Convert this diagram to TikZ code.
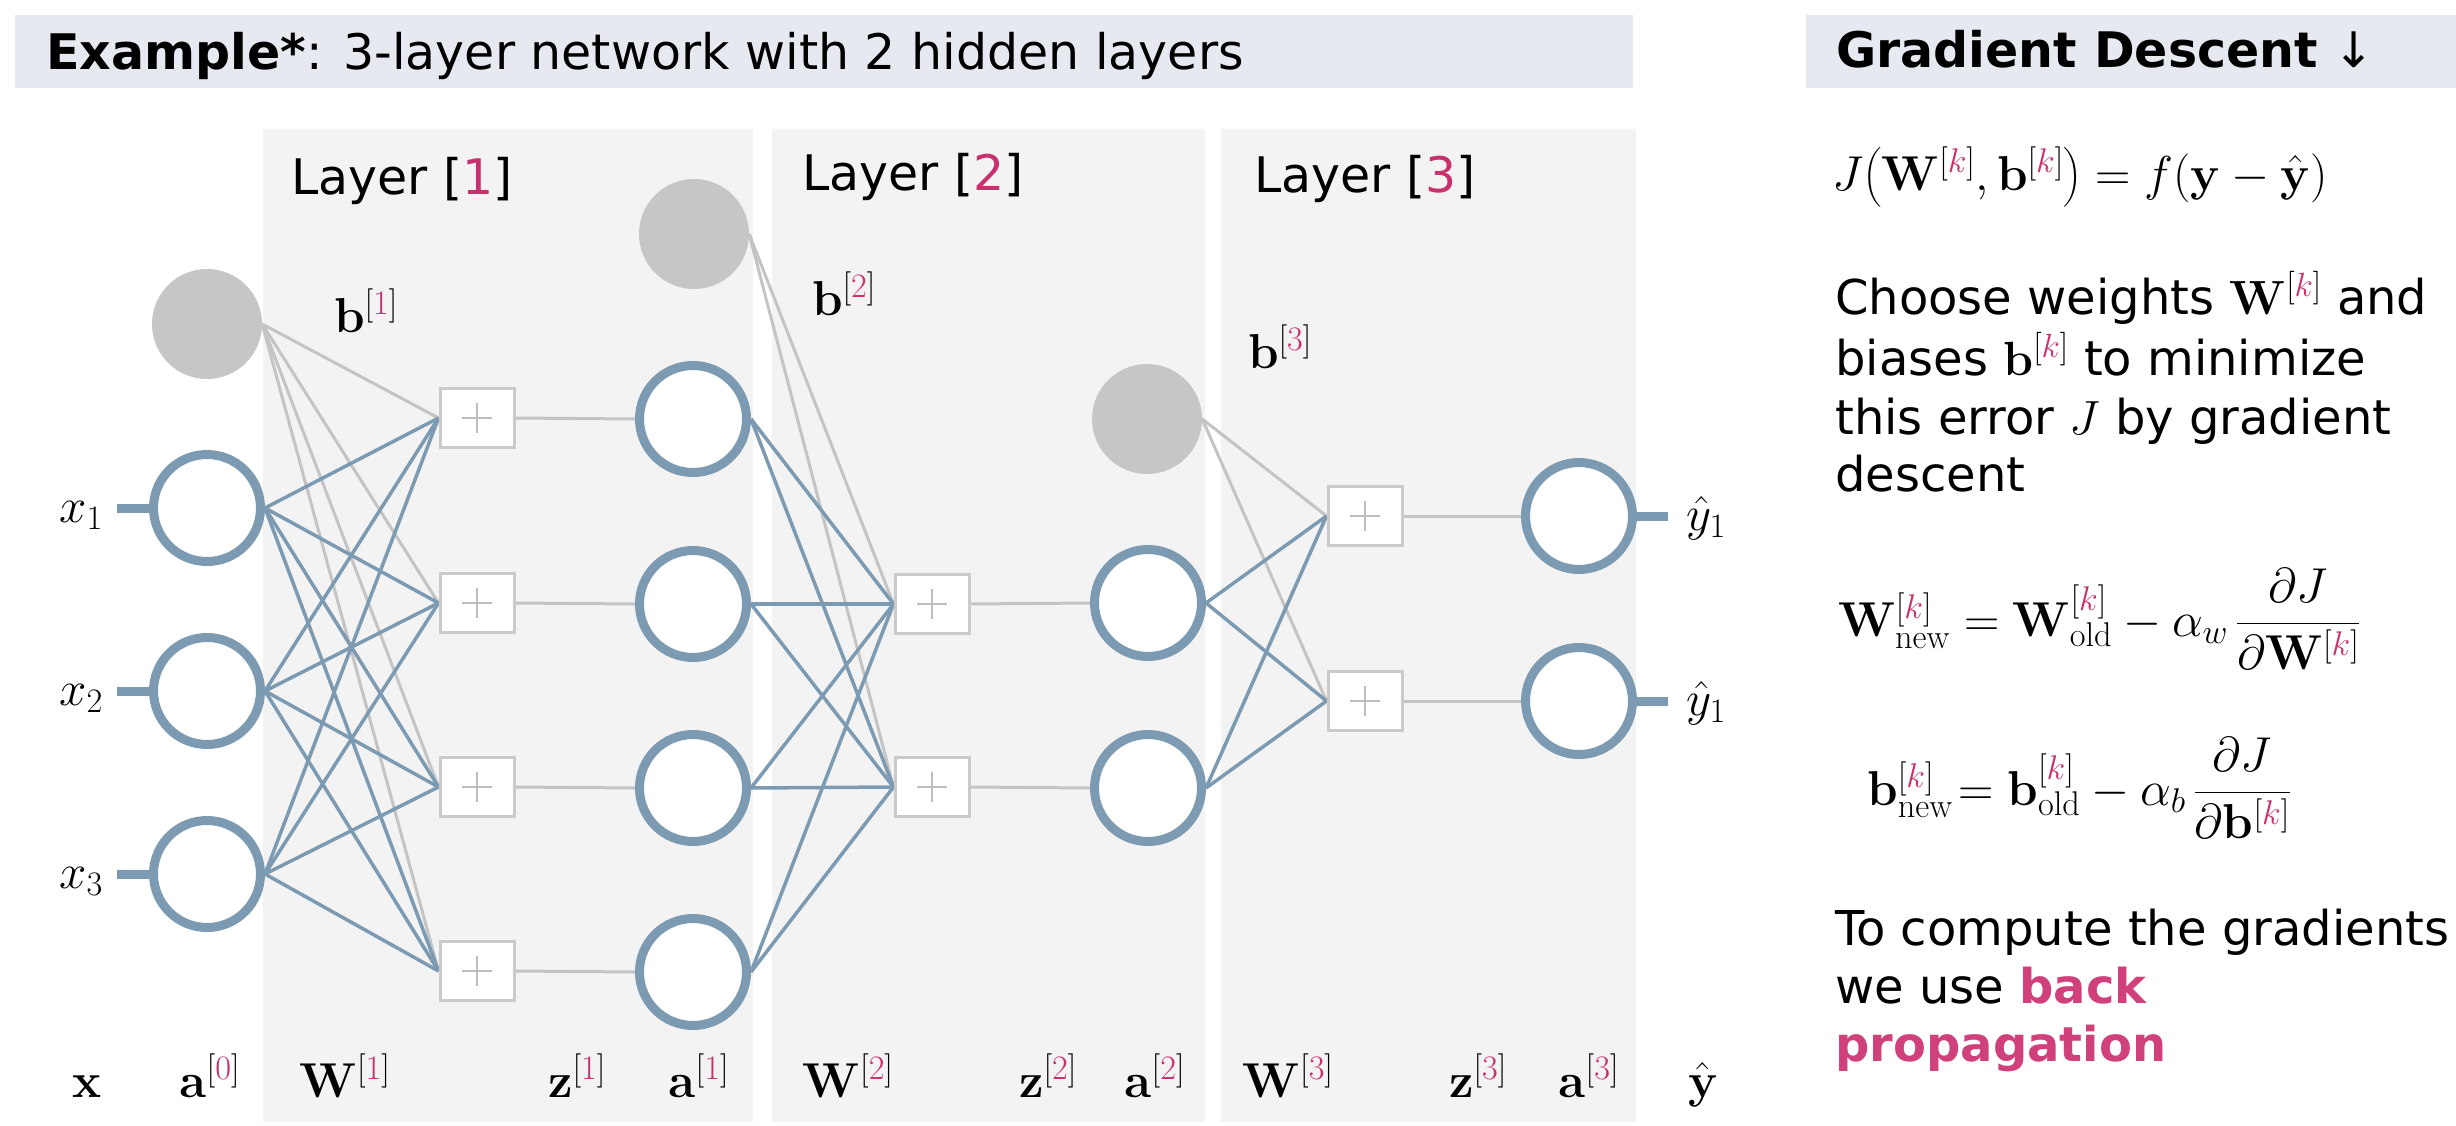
\RequirePackage{fix-cm}
\documentclass[tikz,border=0pt]{standalone}
\usepackage{amsmath}
\usepackage[no-math]{fontspec}
\setmainfont{DejaVu Sans}
\definecolor{ringblue}{RGB}{124,155,178}
\definecolor{biasgray}{RGB}{198,198,198}
\definecolor{linegray}{RGB}{196,196,196}
\definecolor{boxgray}{RGB}{202,202,202}
\definecolor{plusgray}{RGB}{190,190,190}
\definecolor{panelgray}{RGB}{243,243,243}
\definecolor{bargray}{RGB}{230,234,240}
\definecolor{accent}{RGB}{200,48,110}
\definecolor{bpcolor}{RGB}{208,64,122}
\newcommand{\sqn}[1]{^{[\textcolor{accent}{#1}]}}
\newcommand{\txtsz}{\fontsize{48}{56}\selectfont}
\newcommand{\bigsz}{\fontsize{49}{56}\selectfont}
\newcommand{\mathsz}{\fontsize{49}{56}\selectfont}
\pgfdeclarelayer{bg}
\pgfdeclarelayer{edges}
\pgfsetlayers{bg,edges,main}
\tikzset{
  ring/.style={circle, draw=ringblue, line width=9pt, fill=white, minimum size=107pt, inner sep=0pt},
  biasnode/.style={circle, fill=biasgray, minimum size=110pt, inner sep=0pt},
  plusbox/.style={rectangle, draw=boxgray, line width=3pt, fill=white, minimum width=74pt, minimum height=59pt, inner sep=0pt,
    path picture={\draw[plusgray, line width=2pt]
      ([xshift=-15pt]path picture bounding box.center) -- ([xshift=15pt]path picture bounding box.center)
      ([yshift=-15pt]path picture bounding box.center) -- ([yshift=15pt]path picture bounding box.center);}},
  wblue/.style={draw=ringblue, line width=3.5pt},
  wgray/.style={draw=linegray, line width=3pt},
  stub/.style={draw=ringblue, line width=9pt},
  panel/.style={fill=panelgray},
  hbar/.style={fill=bargray},
  txt/.style={inner sep=0pt, font=\txtsz},
  bigtxt/.style={inner sep=0pt, font=\bigsz},
  mlbl/.style={inner sep=0pt, font=\mathsz},
}
\begin{document}
\begin{tikzpicture}[x=1pt, y=-1pt]
\useasboundingbox (0,0) rectangle (2456,1126);
% backgrounds
\begin{pgfonlayer}{bg}
  \fill[white] (0,0) rectangle (2456,1126);
  \path[hbar] (15,15) rectangle (1633,88);
  \path[hbar] (1806,15) rectangle (2456,88);
  \path[panel] (263,129) rectangle (753,1122);
  \path[panel] (772,129) rectangle (1205,1122);
  \path[panel] (1221,129) rectangle (1636,1122);
\end{pgfonlayer}

% headings
\node[bigtxt, anchor=base west] (title) at (46,70) {\textbf{Example*}: 3-layer network with 2 hidden layers};
\node[bigtxt, anchor=base west] (gdtitle) at (1836,68) {\textbf{Gradient Descent} ↓};
\node[bigtxt, anchor=base west] (lay1) at (291,195) {Layer [\textcolor{accent}{1}]};
\node[bigtxt, anchor=base west] (lay2) at (802,190) {Layer [\textcolor{accent}{2}]};
\node[bigtxt, anchor=base west] (lay3) at (1254,193) {Layer [\textcolor{accent}{3}]};

% input layer
\node[biasnode] (b1) at (207,324) {};
\node[ring] (in1) at (207,508) {};
\node[ring] (in2) at (207,691) {};
\node[ring] (in3) at (207,874) {};
% layer 1
\node[plusbox] (z11) at (477,418) {};
\node[plusbox] (z12) at (477,603) {};
\node[plusbox] (z13) at (477,787) {};
\node[plusbox] (z14) at (477,971) {};
\node[ring] (a11) at (693,419) {};
\node[ring] (a12) at (693,604) {};
\node[ring] (a13) at (693,788) {};
\node[ring] (a14) at (693,972) {};
\node[biasnode] (b2) at (694,234) {};
% layer 2
\node[plusbox] (z21) at (932,604) {};
\node[plusbox] (z22) at (932,787) {};
\node[ring] (a21) at (1148,603) {};
\node[ring] (a22) at (1148,788) {};
\node[biasnode] (b3) at (1147,419) {};
% layer 3
\node[plusbox] (z31) at (1365,516) {};
\node[plusbox] (z32) at (1365,701) {};
\node[ring] (o1) at (1579,516) {};
\node[ring] (o2) at (1579,701) {};

\coordinate (s1) at (117,508);
\coordinate (s2) at (117,691);
\coordinate (s3) at (117,874);
\coordinate (t1) at (1668,516);
\coordinate (t2) at (1668,701);

\begin{pgfonlayer}{edges}
  \foreach \i in {1,2,3} \draw[stub] (s\i) -- (in\i.west);
  \foreach \i in {1,2} \draw[stub] (o\i.east) -- (t\i);
  \foreach \j in {1,...,4} \draw[wgray] (b1.east) -- (z1\j.west);
  \foreach \i in {1,2,3} \foreach \j in {1,...,4} \draw[wblue] (in\i.east) -- (z1\j.west);
  \foreach \j in {1,...,4} \draw[wgray] (z1\j.east) -- (a1\j.west);
  \foreach \j in {1,2} \draw[wgray] (b2.east) -- (z2\j.west);
  \foreach \i in {1,...,4} \foreach \j in {1,2} \draw[wblue] (a1\i.east) -- (z2\j.west);
  \foreach \j in {1,2} \draw[wgray] (z2\j.east) -- (a2\j.west);
  \foreach \j in {1,2} \draw[wgray] (b3.east) -- (z3\j.west);
  \foreach \i in {1,2} \foreach \j in {1,2} \draw[wblue] (a2\i.east) -- (z3\j.west);
  \foreach \j in {1,2} \draw[wgray] (z3\j.east) -- (o\j.west);
\end{pgfonlayer}

% side labels
\node[mlbl, anchor=base east] (lx1) at (103,522) {$x_1$};
\node[mlbl, anchor=base east] (lx2) at (103,705) {$x_2$};
\node[mlbl, anchor=base east] (lx3) at (103,888) {$x_3$};
\node[mlbl, anchor=base west] (ly1) at (1686,530) {$\hat{y}_1$};
\node[mlbl, anchor=base west] (ly2) at (1686,715) {$\hat{y}_1$};
% bias labels
\node[mlbl, anchor=base] (lb1) at (366,332) {$\mathbf{b}\sqn{1}$};
\node[mlbl, anchor=base] (lb2) at (844,315) {$\mathbf{b}\sqn{2}$};
\node[mlbl, anchor=base] (lb3) at (1280,368) {$\mathbf{b}\sqn{3}$};
% bottom labels
\node[mlbl, anchor=base] (bx)  at (87,1097)   {$\mathbf{x}$};
\node[mlbl, anchor=base] (ba0) at (210,1097)  {$\mathbf{a}\sqn{0}$};
\node[mlbl, anchor=base] (bW1) at (345,1097)  {$\mathbf{W}\sqn{1}$};
\node[mlbl, anchor=base] (bz1) at (577,1097)  {$\mathbf{z}\sqn{1}$};
\node[mlbl, anchor=base] (ba1) at (699,1097)  {$\mathbf{a}\sqn{1}$};
\node[mlbl, anchor=base] (bW2) at (848,1097)  {$\mathbf{W}\sqn{2}$};
\node[mlbl, anchor=base] (bz2) at (1048,1097) {$\mathbf{z}\sqn{2}$};
\node[mlbl, anchor=base] (ba2) at (1155,1097) {$\mathbf{a}\sqn{2}$};
\node[mlbl, anchor=base] (bW3) at (1288,1097) {$\mathbf{W}\sqn{3}$};
\node[mlbl, anchor=base] (bz3) at (1478,1097) {$\mathbf{z}\sqn{3}$};
\node[mlbl, anchor=base] (ba3) at (1589,1097) {$\mathbf{a}\sqn{3}$};
\node[mlbl, anchor=base] (by)  at (1703,1097) {$\hat{\mathbf{y}}$};

% right panel
\node[mlbl, anchor=base west] (jform) at (1832,190)
  {$J\big(\mathbf{W}\sqn{k},\mathbf{b}\sqn{k}\big)=f(\mathbf{y}-\hat{\mathbf{y}})$};
\node[txt, anchor=base west] (p1) at (1835,314) {Choose weights $\mathbf{W}\sqn{k}$ and};
\node[txt, anchor=base west] (p2) at (1835,375) {biases $\mathbf{b}\sqn{k}$ to minimize};
\node[txt, anchor=base west] (p3) at (1835,434) {this error $J$ by gradient};
\node[txt, anchor=base west] (p4) at (1835,491) {descent};
\node[mlbl, anchor=base west] (wform) at (1838,636)
  {$\mathbf{W}\sqn{k}_{\mathrm{new}}=\mathbf{W}\sqn{k}_{\mathrm{old}}-\alpha_w\,\dfrac{\partial J}{\partial\mathbf{W}\sqn{k}}$};
\node[mlbl, anchor=base west] (bform) at (1867,805)
  {$\mathbf{b}\sqn{k}_{\mathrm{new}}\!=\mathbf{b}\sqn{k}_{\mathrm{old}}-\alpha_b\,\dfrac{\partial J}{\partial\mathbf{b}\sqn{k}}$};
\node[txt, anchor=base west] (q1) at (1835,945) {To compute the gradients};
\node[txt, anchor=base west] (q2) at (1835,1003) {we use \textcolor{bpcolor}{\textbf{back}}};
\node[txt, anchor=base west] (q3) at (1835,1061) {\textcolor{bpcolor}{\textbf{propagation}}};
\end{tikzpicture}
\end{document}
